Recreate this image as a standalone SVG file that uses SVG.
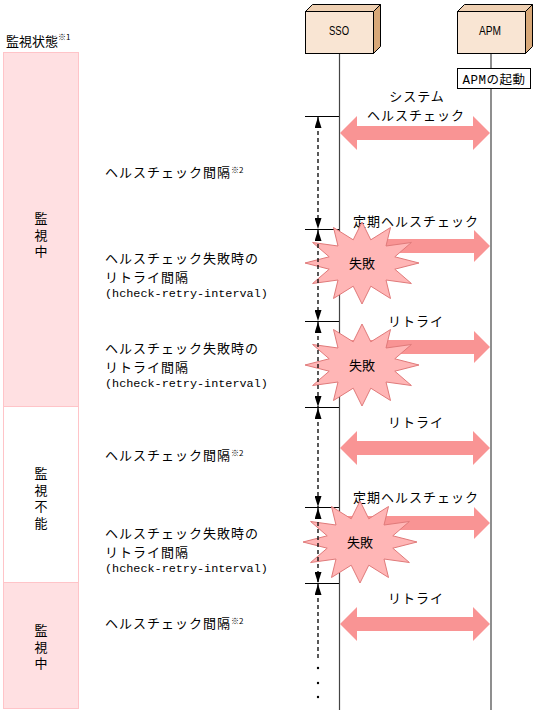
<svg xmlns="http://www.w3.org/2000/svg" xmlns:xlink="http://www.w3.org/1999/xlink" width="536" height="713" viewBox="0 0 536 713">
<style>
.jp{font-family:"Noto Sans CJK JP","Liberation Sans",sans-serif;font-size:13px;letter-spacing:1px;fill:#000}
.jt{font-family:"Noto Sans CJK JP","Liberation Sans",sans-serif;font-size:13px;fill:#000}
.mono{font-family:"Liberation Mono","Noto Sans CJK JP",monospace;font-size:11.8px;fill:#000}
.sup{font-size:8px;letter-spacing:0}
.vt{font-family:"Noto Sans CJK JP","Liberation Sans",sans-serif;font-size:13px;fill:#000;writing-mode:vertical-rl;text-orientation:upright;letter-spacing:3.5px}
.mid{text-anchor:middle}
.panel{stroke:#ffc4c8;stroke-width:1}
.front{fill:#f9e5d3;stroke:#000;stroke-width:1}
.top{fill:#efd0b2;stroke:#000;stroke-width:1}
.side{fill:#d8a878;stroke:#000;stroke-width:1}
.life{stroke:#444;stroke-width:1.2;fill:none}
.tick{stroke:#000;stroke-width:1;fill:none}
.dash{stroke:#000;stroke-width:1.3;stroke-dasharray:4 3;fill:none}
.big{fill:#f99494}
.star{fill:#ffb6b6;stroke:#e07a7a;stroke-width:1}
</style>
<defs>
<marker id="ah" viewBox="0 0 11 7" refX="11" refY="3.5" markerWidth="11" markerHeight="7" markerUnits="userSpaceOnUse" orient="auto-start-reverse">
<path d="M0,0 L11,3.5 L0,7 z" fill="#000"/>
</marker>
<path id="dbl" d="M340,0 L357,-17 L357,-7 L473,-7 L473,-17 L490,0 L473,17 L473,7 L357,7 L357,17 z"/>
<path id="sgl" d="M340,-7 L474,-7 L474,-16 L490,0 L474,16 L474,7 L340,7 z"/>
<polygon id="burst" points="0,-41 8.8,-23.2 28.5,-35.5 24,-17 49.4,-20.5 32.8,-6.2 57,0 32.8,6.2 49.4,20.5 24,17 28.5,35.5 8.8,23.2 0,41 -8.8,23.2 -28.5,35.5 -24,17 -49.4,20.5 -32.8,6.2 -57,0 -32.8,-6.2 -49.4,-20.5 -24,-17 -28.5,-35.5 -8.8,-23.2"/>
</defs>

<g id="title">
<text class="jt" x="6" y="46">監視状態<tspan class="sup" dy="-6">※1</tspan></text>
</g>

<g id="state-panel">
<rect class="panel" x="3.5" y="52.5" width="75" height="354" fill="#ffe0e2"/>
<rect class="panel" x="3.5" y="406.5" width="75" height="176" fill="#ffffff"/>
<rect class="panel" x="3.5" y="582.5" width="75" height="126" fill="#ffe0e2"/>
<text class="vt" x="41" y="212">監視中</text>
<text class="vt" x="41" y="467">監視不能</text>
<text class="vt" x="41" y="624">監視中</text>
</g>

<g id="interval-labels">
<text class="jp" x="105" y="177">ヘルスチェック間隔<tspan class="sup" dy="-4">※2</tspan></text>
<text class="jp" x="105" y="263">ヘルスチェック失敗時の</text>
<text class="jp" x="105" y="282">リトライ間隔</text>
<text class="mono" x="105" y="297">(hcheck-retry-interval)</text>
<text class="jp" x="105" y="353">ヘルスチェック失敗時の</text>
<text class="jp" x="105" y="372">リトライ間隔</text>
<text class="mono" x="105" y="387">(hcheck-retry-interval)</text>
<text class="jp" x="105" y="460">ヘルスチェック間隔<tspan class="sup" dy="-4">※2</tspan></text>
<text class="jp" x="105" y="538">ヘルスチェック失敗時の</text>
<text class="jp" x="105" y="557">リトライ間隔</text>
<text class="mono" x="105" y="572">(hcheck-retry-interval)</text>
<text class="jp" x="105" y="628">ヘルスチェック間隔<tspan class="sup" dy="-4">※2</tspan></text>
</g>

<g id="lifelines">
<line class="life" x1="339.5" y1="53" x2="339.5" y2="710"/>
<line class="life" x1="491" y1="53" x2="491" y2="68"/>
<line class="life" x1="491" y1="89" x2="491" y2="710"/>
</g>

<g id="SSO">
<rect class="front" x="305.5" y="11.5" width="68" height="42"/>
<polygon class="top" points="305.5,11.5 312.5,4.5 380.5,4.5 373.5,11.5"/>
<polygon class="side" points="373.5,11.5 380.5,4.5 380.5,46.5 373.5,53.5"/>
<text x="339" y="35" font-family="Liberation Sans, sans-serif" font-size="13" text-anchor="middle" textLength="20" lengthAdjust="spacingAndGlyphs">SSO</text>
</g>

<g id="APM">
<rect class="front" x="457.5" y="11.5" width="68" height="42"/>
<polygon class="top" points="457.5,11.5 464.5,4.5 532.5,4.5 525.5,11.5"/>
<polygon class="side" points="525.5,11.5 532.5,4.5 532.5,46.5 525.5,53.5"/>
<text x="490" y="35" font-family="Liberation Sans, sans-serif" font-size="13" text-anchor="middle" textLength="22" lengthAdjust="spacingAndGlyphs">APM</text>
</g>

<g id="APM-start">
<rect x="457.5" y="68.5" width="73" height="20" fill="#fff" stroke="#000" stroke-width="1"/>
<text x="494" y="84" text-anchor="middle" font-family="Liberation Mono, Noto Sans CJK JP, monospace" font-size="12.5" letter-spacing="0.5">APMの起動</text>
</g>

<g id="ticks">
<line class="tick" x1="305" y1="116.5" x2="339" y2="116.5"/>
<line class="tick" x1="305" y1="229.5" x2="339" y2="229.5"/>
<line class="tick" x1="305" y1="321.5" x2="339" y2="321.5"/>
<line class="tick" x1="305" y1="407.5" x2="339" y2="407.5"/>
<line class="tick" x1="305" y1="507.5" x2="339" y2="507.5"/>
<line class="tick" x1="305" y1="583.5" x2="339" y2="583.5"/>
</g>

<g id="messages">
<text class="jp mid" x="417" y="101">システム</text>
<text class="jp mid" x="416" y="120">ヘルスチェック</text>
<use xlink:href="#dbl" href="#dbl" class="big" y="133"/>
<text class="jp mid" x="416" y="226">定期ヘルスチェック</text>
<use xlink:href="#sgl" href="#sgl" class="big" y="246"/>
<text class="jp mid" x="416" y="326">リトライ</text>
<use xlink:href="#sgl" href="#sgl" class="big" y="347"/>
<text class="jp mid" x="416" y="427">リトライ</text>
<use xlink:href="#dbl" href="#dbl" class="big" y="448"/>
<text class="jp mid" x="416" y="502">定期ヘルスチェック</text>
<use xlink:href="#sgl" href="#sgl" class="big" y="523"/>
<text class="jp mid" x="416" y="603">リトライ</text>
<use xlink:href="#dbl" href="#dbl" class="big" y="624"/>
</g>

<g id="fail-1">
<use xlink:href="#burst" href="#burst" class="star" x="362" y="263"/>
<text class="jt mid" x="362" y="268">失敗</text>
</g>
<g id="fail-2">
<use xlink:href="#burst" href="#burst" class="star" x="362" y="365"/>
<text class="jt mid" x="362" y="370">失敗</text>
</g>
<g id="fail-3">
<use xlink:href="#burst" href="#burst" class="star" x="360" y="542"/>
<text class="jt mid" x="360" y="547">失敗</text>
</g>

<g id="connectors">
<line class="dash" x1="318" y1="117" x2="318" y2="229" marker-start="url(#ah)" marker-end="url(#ah)"/>
<line class="dash" x1="318" y1="230" x2="318" y2="321" marker-start="url(#ah)" marker-end="url(#ah)"/>
<line class="dash" x1="318" y1="322" x2="318" y2="407" marker-start="url(#ah)" marker-end="url(#ah)"/>
<line class="dash" x1="318" y1="408" x2="318" y2="507" marker-start="url(#ah)" marker-end="url(#ah)"/>
<line class="dash" x1="318" y1="508" x2="318" y2="583" marker-start="url(#ah)" marker-end="url(#ah)"/>
<line class="dash" x1="318" y1="584" x2="318" y2="659" marker-start="url(#ah)"/>
<circle cx="318" cy="668" r="1.2" fill="#000"/>
<circle cx="318" cy="683" r="1.2" fill="#000"/>
<circle cx="318" cy="697" r="1.2" fill="#000"/>
</g>
</svg>
